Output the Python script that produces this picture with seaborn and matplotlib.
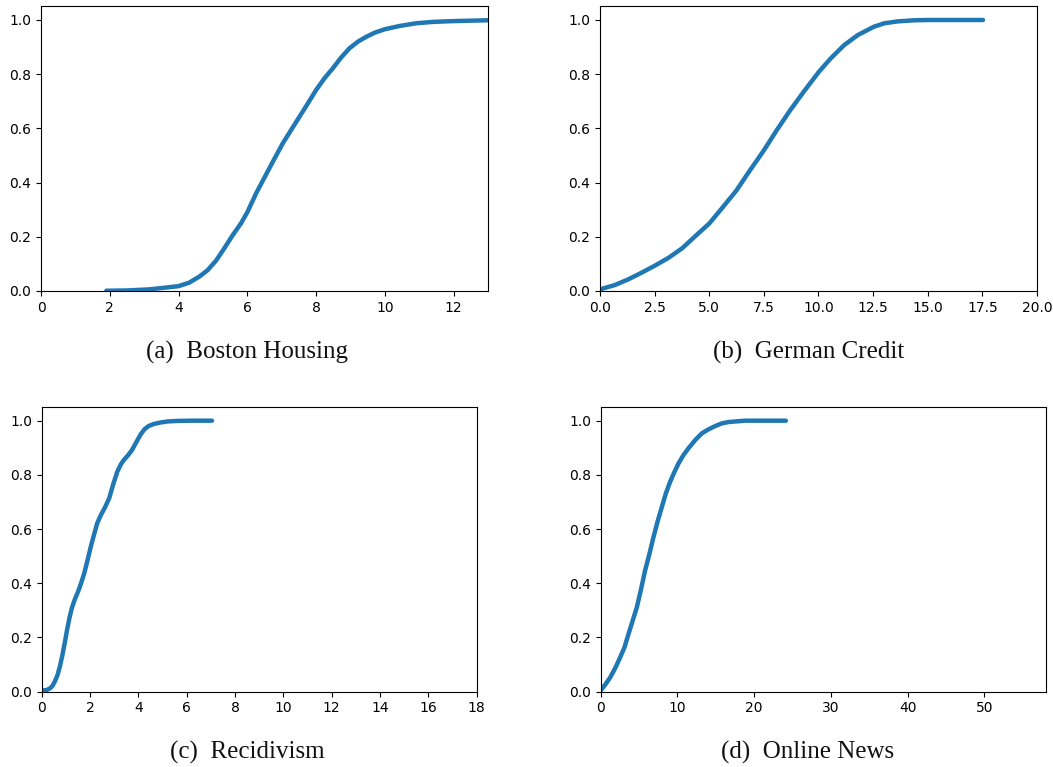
import numpy as np
import pandas as pd
import seaborn as sns
import matplotlib
matplotlib.use("Agg")
import matplotlib.pyplot as plt

# Values
boston_x = [1.9, 2.5, 3.146, 3.437, 3.728, 4.0, 4.311, 4.602, 4.845, 5.088, 5.331, 5.573, 5.816, 6.0,
            6.253, 6.544, 6.787, 7.03, 7.272, 7.515, 7.758, 8.0, 8.243, 8.486, 8.729, 8.972, 9.214,
            9.457, 9.7, 10.0, 10.43, 10.91, 11.4, 12.0, 13.0]
boston_y = [0.001, 0.002, 0.006, 0.010, 0.014, 0.018, 0.031, 0.053, 0.077, 0.112, 0.158, 0.206, 0.25, 0.291,
            0.36, 0.43, 0.488, 0.545, 0.594, 0.643, 0.692, 0.742, 0.785, 0.822, 0.862, 0.896, 0.92,
            0.938, 0.953, 0.966, 0.978, 0.988, 0.993, 0.996, 0.999]

german_x = [0.0, 0.679, 1.296, 1.914, 2.5, 3.148, 3.765, 4.383, 5.0, 5.617, 6.235, 6.852, 7.5, 8.086,
            8.704, 9.321, 10.02, 10.556, 11.17, 11.79, 12.53, 13.02, 13.64, 14.41, 15.03, 17.53]
german_y = [0.006, 0.022, 0.043, 0.068, 0.093, 0.123, 0.158, 0.204, 0.249, 0.309, 0.370, 0.444, 0.519, 0.593,
            0.667, 0.735, 0.809, 0.858, 0.907, 0.944, 0.975, 0.988, 0.995, 0.999, 1.0, 1.0]

recid_x = [0.0, 0.2, 0.34, 0.45, 0.54, 0.65, 0.75, 0.85, 0.95, 1.05, 1.16, 1.26, 1.36, 1.5, 1.63, 1.77, 1.9,
           2.04, 2.18, 2.3, 2.45, 2.62, 2.79, 2.96, 3.13, 3.27, 3.4, 3.57, 3.74, 3.9, 4.08, 4.25, 4.42,
           4.65, 4.9, 5.2, 5.58, 6.2, 7.05]
recid_y = [0.004, 0.006, 0.012, 0.022, 0.037, 0.06, 0.092, 0.132, 0.178, 0.228, 0.277, 0.312, 0.338, 0.368, 0.40,
           0.44, 0.486, 0.538, 0.584, 0.622, 0.652, 0.68, 0.713, 0.765, 0.812, 0.838, 0.855, 0.872, 0.892, 0.918, 0.947,
           0.968, 0.98, 0.988, 0.993, 0.997, 0.999, 1.0, 1.0]

news_x = [0.0, 0.565, 1.217, 1.87, 2.52, 3.087, 3.61, 4.13, 4.7, 5.26, 5.78, 6.35, 6.87, 7.43, 7.96, 8.48,
          9.04, 9.61, 10.13, 10.78, 11.43, 12.3, 13.17, 14.04, 14.91, 15.78, 16.65, 18.83, 24.13]
news_y = [0.005, 0.025, 0.052, 0.086, 0.126, 0.163, 0.212, 0.259, 0.311, 0.379, 0.447, 0.509, 0.570, 0.630,
          0.681, 0.731, 0.774, 0.811, 0.842, 0.873, 0.898, 0.928, 0.953, 0.968, 0.980, 0.990, 0.995, 1.0, 1.0]

captions = ["(a)  Boston Housing", "(b)  German Credit", "(c)  Recidivism", "(d)  Online News"]
x_limits = [13, 20, 18, 58]

sns.set_style("ticks")
plt.rcParams["font.family"] = ["DejaVu Sans"]

fig = plt.figure(figsize=(10.53, 7.67), dpi=100)

# axes boxes in figure fractions
boxes = [
    [0.039, 0.6206, 0.4245, 0.371],
    [0.5698, 0.6206, 0.415, 0.371],
    [0.0396, 0.0982, 0.413, 0.371],
    [0.5705, 0.0982, 0.4226, 0.371],
]
caption_pos = [(247.5 / 1053, 1 - 352 / 767), (809 / 1053, 1 - 352 / 767),
               (247 / 1053, 1 - 752 / 767), (808 / 1053, 1 - 752 / 767)]

series = [(boston_x, boston_y), (german_x, german_y), (recid_x, recid_y), (news_x, news_y)]

for i, (xs, ys) in enumerate(series):
    ax = fig.add_axes(boxes[i])
    df = pd.DataFrame({"x": xs, "y": ys})
    sns.lineplot(data=df, x="x", y="y", ax=ax, color="#1f77b4", linewidth=3.2)
    ax.set_xlim(0, x_limits[i])
    ax.set_ylim(0, 1.05)
    ax.set_xlabel("")
    ax.set_ylabel("")
    ax.tick_params(labelsize=10, length=3.5, width=0.8, colors="black")
    for sp in ax.spines.values():
        sp.set_linewidth(0.8)
        sp.set_color("black")
    fig.text(caption_pos[i][0], caption_pos[i][1], captions[i], ha="center", va="center",
             fontsize=18, color="#111111", family=["Liberation Serif", "DejaVu Serif"])

fig.savefig("out.png", dpi=100)
